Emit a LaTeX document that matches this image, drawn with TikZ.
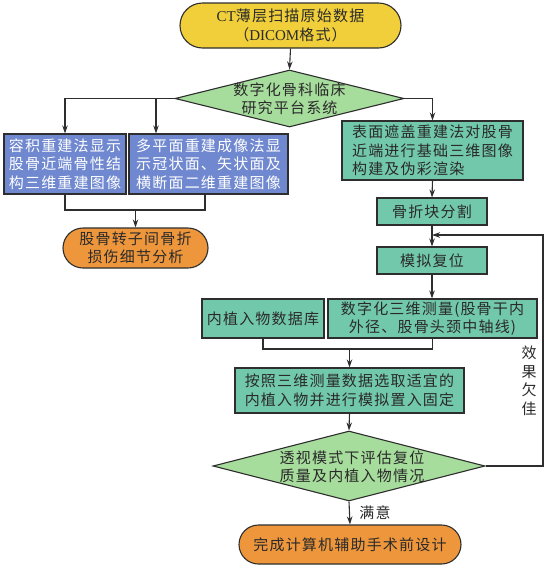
\documentclass[tikz,border=0pt]{standalone}
\usepackage{fontspec}
\newfontfamily\cjk{Noto Sans CJK SC}[LetterSpace=8]
\newfontfamily\lat{Liberation Serif}
\usetikzlibrary{shapes.geometric,shapes.misc,arrows.meta,calc}
\definecolor{edge}{HTML}{2E2E2E}
\definecolor{txt}{HTML}{2A2A2A}
\definecolor{yel}{HTML}{F0CF3A}
\definecolor{grn}{HTML}{A6DC9C}
\definecolor{blu}{HTML}{6F88CF}
\definecolor{tea}{HTML}{72C8AB}
\definecolor{ora}{HTML}{EE963C}
\tikzset{
  x=1pt, y=-1pt,
  basefont/.style={font={\cjk\fontsize{15}{18.5}\selectfont}},
  box/.style={draw=edge, line width=1.1pt, inner sep=0pt, align=center, basefont, text=txt},
  bluebox/.style={box, fill=blu, text=white},
  tealbox/.style={box, fill=tea},
  term/.style={box, rounded rectangle},
  dia/.style={diamond, draw=edge, fill=grn, line width=1.1pt, inner sep=0pt},
  ln/.style={line width=1.1pt, draw=edge},
  arr/.style={ln, -{Stealth[length=8pt,width=5.5pt]}},
  lab/.style={inner sep=0pt, basefont, text=txt, align=center},
}
\begin{document}
\begin{tikzpicture}
\useasboundingbox (0,0) rectangle (550,571);
% nodes
\node[term, fill=yel, minimum width=221pt, minimum height=45pt] (T1) at (290.5,25.5)
  {{\lat CT}薄层扫描原始数据\\（{\lat DICOM}格式）};
\node[dia, minimum width=229pt, minimum height=57pt] (D1) at (289.5,98.5) {};
\node[lab] (D1t) at (289.5,99) {数字化骨科临床\\研究平台系统};
\node[bluebox, minimum width=122pt, minimum height=60pt] (B1) at (65,164)
  {容积重建法显示\\股骨近端骨性结\\构三维重建图像};
\node[bluebox, minimum width=159pt, minimum height=60pt] (B2) at (208.5,164)
  {多平面重建成像法显\\示冠状面、矢状面及\\横断面二维重建图像};
\node[tealbox, align=left, minimum width=181pt, minimum height=59pt] (B3) at (432.5,150.5)
  {表面遮盖重建法对股骨\\近端进行基础三维图像\\构建及伪彩渲染};
\node[term, fill=ora, minimum width=145pt, minimum height=40pt] (O1) at (135.5,248)
  {股骨转子间骨折\\损伤细节分析};
\node[tealbox, minimum width=110pt, minimum height=27pt] (S1) at (432,211.5) {骨折块分割};
\node[tealbox, minimum width=110pt, minimum height=27pt] (S2) at (432,260.5) {模拟复位};
\node[tealbox, minimum width=122pt, minimum height=39pt] (M1) at (263,318.5) {内植入物数据库};
\node[tealbox, minimum width=209pt, minimum height=39pt] (M2) at (432.5,318.5)
  {数字化三维测量(股骨干内\\外径、股骨头颈中轴线)};
\node[tealbox, minimum width=229pt, minimum height=45pt] (P) at (349.5,390.5)
  {按照三维测量数据选取适宜的\\内植入物并进行模拟置入固定};
\node[dia, minimum width=272pt, minimum height=70pt] (D2) at (349,466) {};
\node[lab] (D2t) at (352,467) {透视模式下评估复位\\质量及内植入物情况};
\node[term, fill=ora, minimum width=222pt, minimum height=39pt] (O2) at (350,544.5)
  {完成计算机辅助手术前设计};
\node[lab] (L1) at (375,513) {满意};
\node[lab] (L2) at (529,381) {效\\果\\欠\\佳};
% coordinates
\coordinate (J1) at (135.5,210);
\coordinate (J2) at (349.5,349);
\coordinate (FB) at (543,235);
% connectors
\draw[arr] (T1.south) -- (D1.north);
\draw[arr] (D1.west) -| (B1.north);
\draw[arr] ([xshift=-52.5pt]B2.north |- D1.west) -- ([xshift=-52.5pt]B2.north);
\draw[arr] (D1.east) -| (B3.north);
\draw[ln] (B1.south) |- (J1) -| ([xshift=-3.5pt]B2.south);
\draw[arr] (J1) -- (O1.north);
\draw[arr] (B3.south) -- (S1.north);
\draw[arr] (S1.south) -- (S2.north);
\draw[arr] (S2.south) -- (S2.south |- M2.north);
\draw[ln] (M1.south) |- (J2) -| (M2.south);
\draw[arr] (J2) -- (P.north);
\draw[arr] (P.south) -- (D2.north);
\draw[arr] (D2.south) -- (O2.north);
\draw[arr] (D2.east) -| (FB) -- (S1.south |- FB);
\end{tikzpicture}
\end{document}
